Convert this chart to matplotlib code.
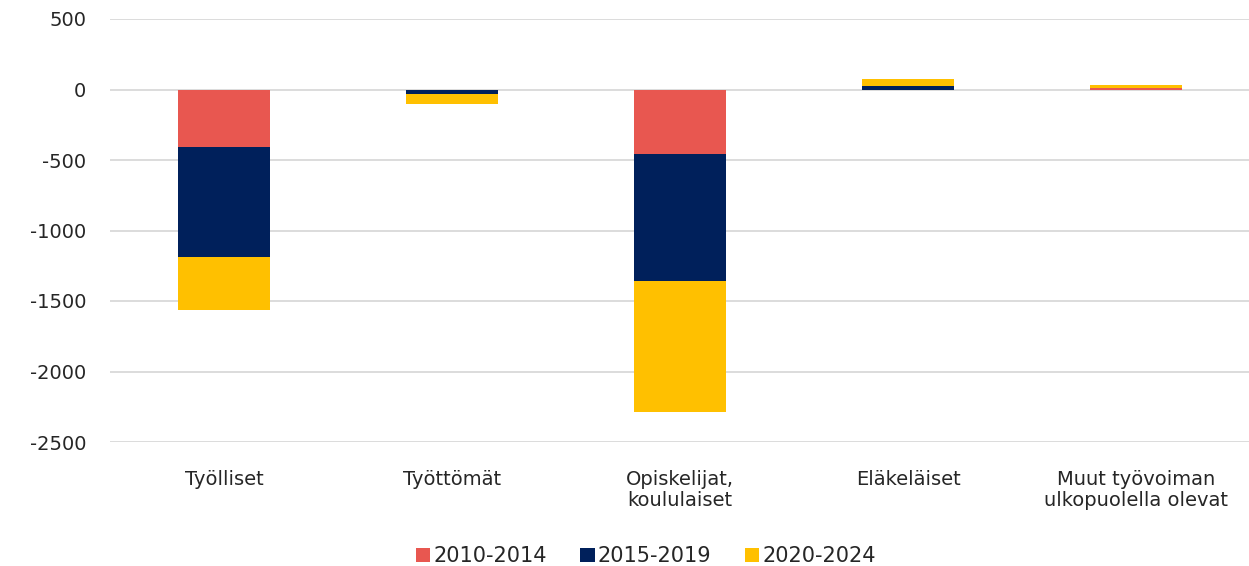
import numpy as np
import matplotlib.pyplot as plt

categories = ['Työlliset', 'Työttömät', 'Opiskelijat,\nkoululaiset', 'Eläkeläiset',
              'Muut työvoiman\nulkopuolella olevat']
s2010 = [-405, -2, -460, 0, 10]
s2015 = [-785, -28, -895, 25, 0]
s2020 = [-376, -71, -935, 50, 20]
series = [('2010-2014', s2010, '#e85750'), ('2015-2019', s2015, '#00205b'),
          ('2020-2024', s2020, '#ffc000')]

plt.rcParams['font.family'] = ['DejaVu Sans']
plt.rcParams['axes.unicode_minus'] = False
fig = plt.figure(figsize=(12.49, 5.66), dpi=100)
ax = fig.add_axes([110 / 1249, 1 - 442 / 566, 1140 / 1249, 423 / 566])

x = np.arange(len(categories))
pos_base = np.zeros(len(categories))
neg_base = np.zeros(len(categories))
for label, vals, col in series:
    vals = np.array(vals, dtype=float)
    base = np.where(vals >= 0, pos_base, neg_base)
    ax.bar(x, vals, 0.4, bottom=base, color=col, label=label, zorder=3)
    pos_base += np.where(vals >= 0, vals, 0)
    neg_base += np.where(vals < 0, vals, 0)

ax.set_xlim(-0.5, len(categories) - 0.5)
ax.set_ylim(-2500, 500)
ax.set_yticks(range(-2500, 501, 500))
ax.yaxis.grid(True, color='#d9d9d9', linewidth=1.3, zorder=0)
for s in ax.spines.values():
    s.set_visible(False)
ax.tick_params(axis='both', length=0, labelsize=14, colors='#262626')
ax.tick_params(axis='y', pad=17)
ax.tick_params(axis='x', pad=20)
ax.set_xticks(x)
ax.set_xticklabels(categories, linespacing=1.15)

ax.legend(loc='center', bbox_to_anchor=(0.47, -0.27), ncol=3, frameon=False,
          fontsize=15, handlelength=0.7, handleheight=0.7, handletextpad=0.15,
          columnspacing=1.6, labelcolor='#262626')

fig.savefig('out.png', dpi=100)
